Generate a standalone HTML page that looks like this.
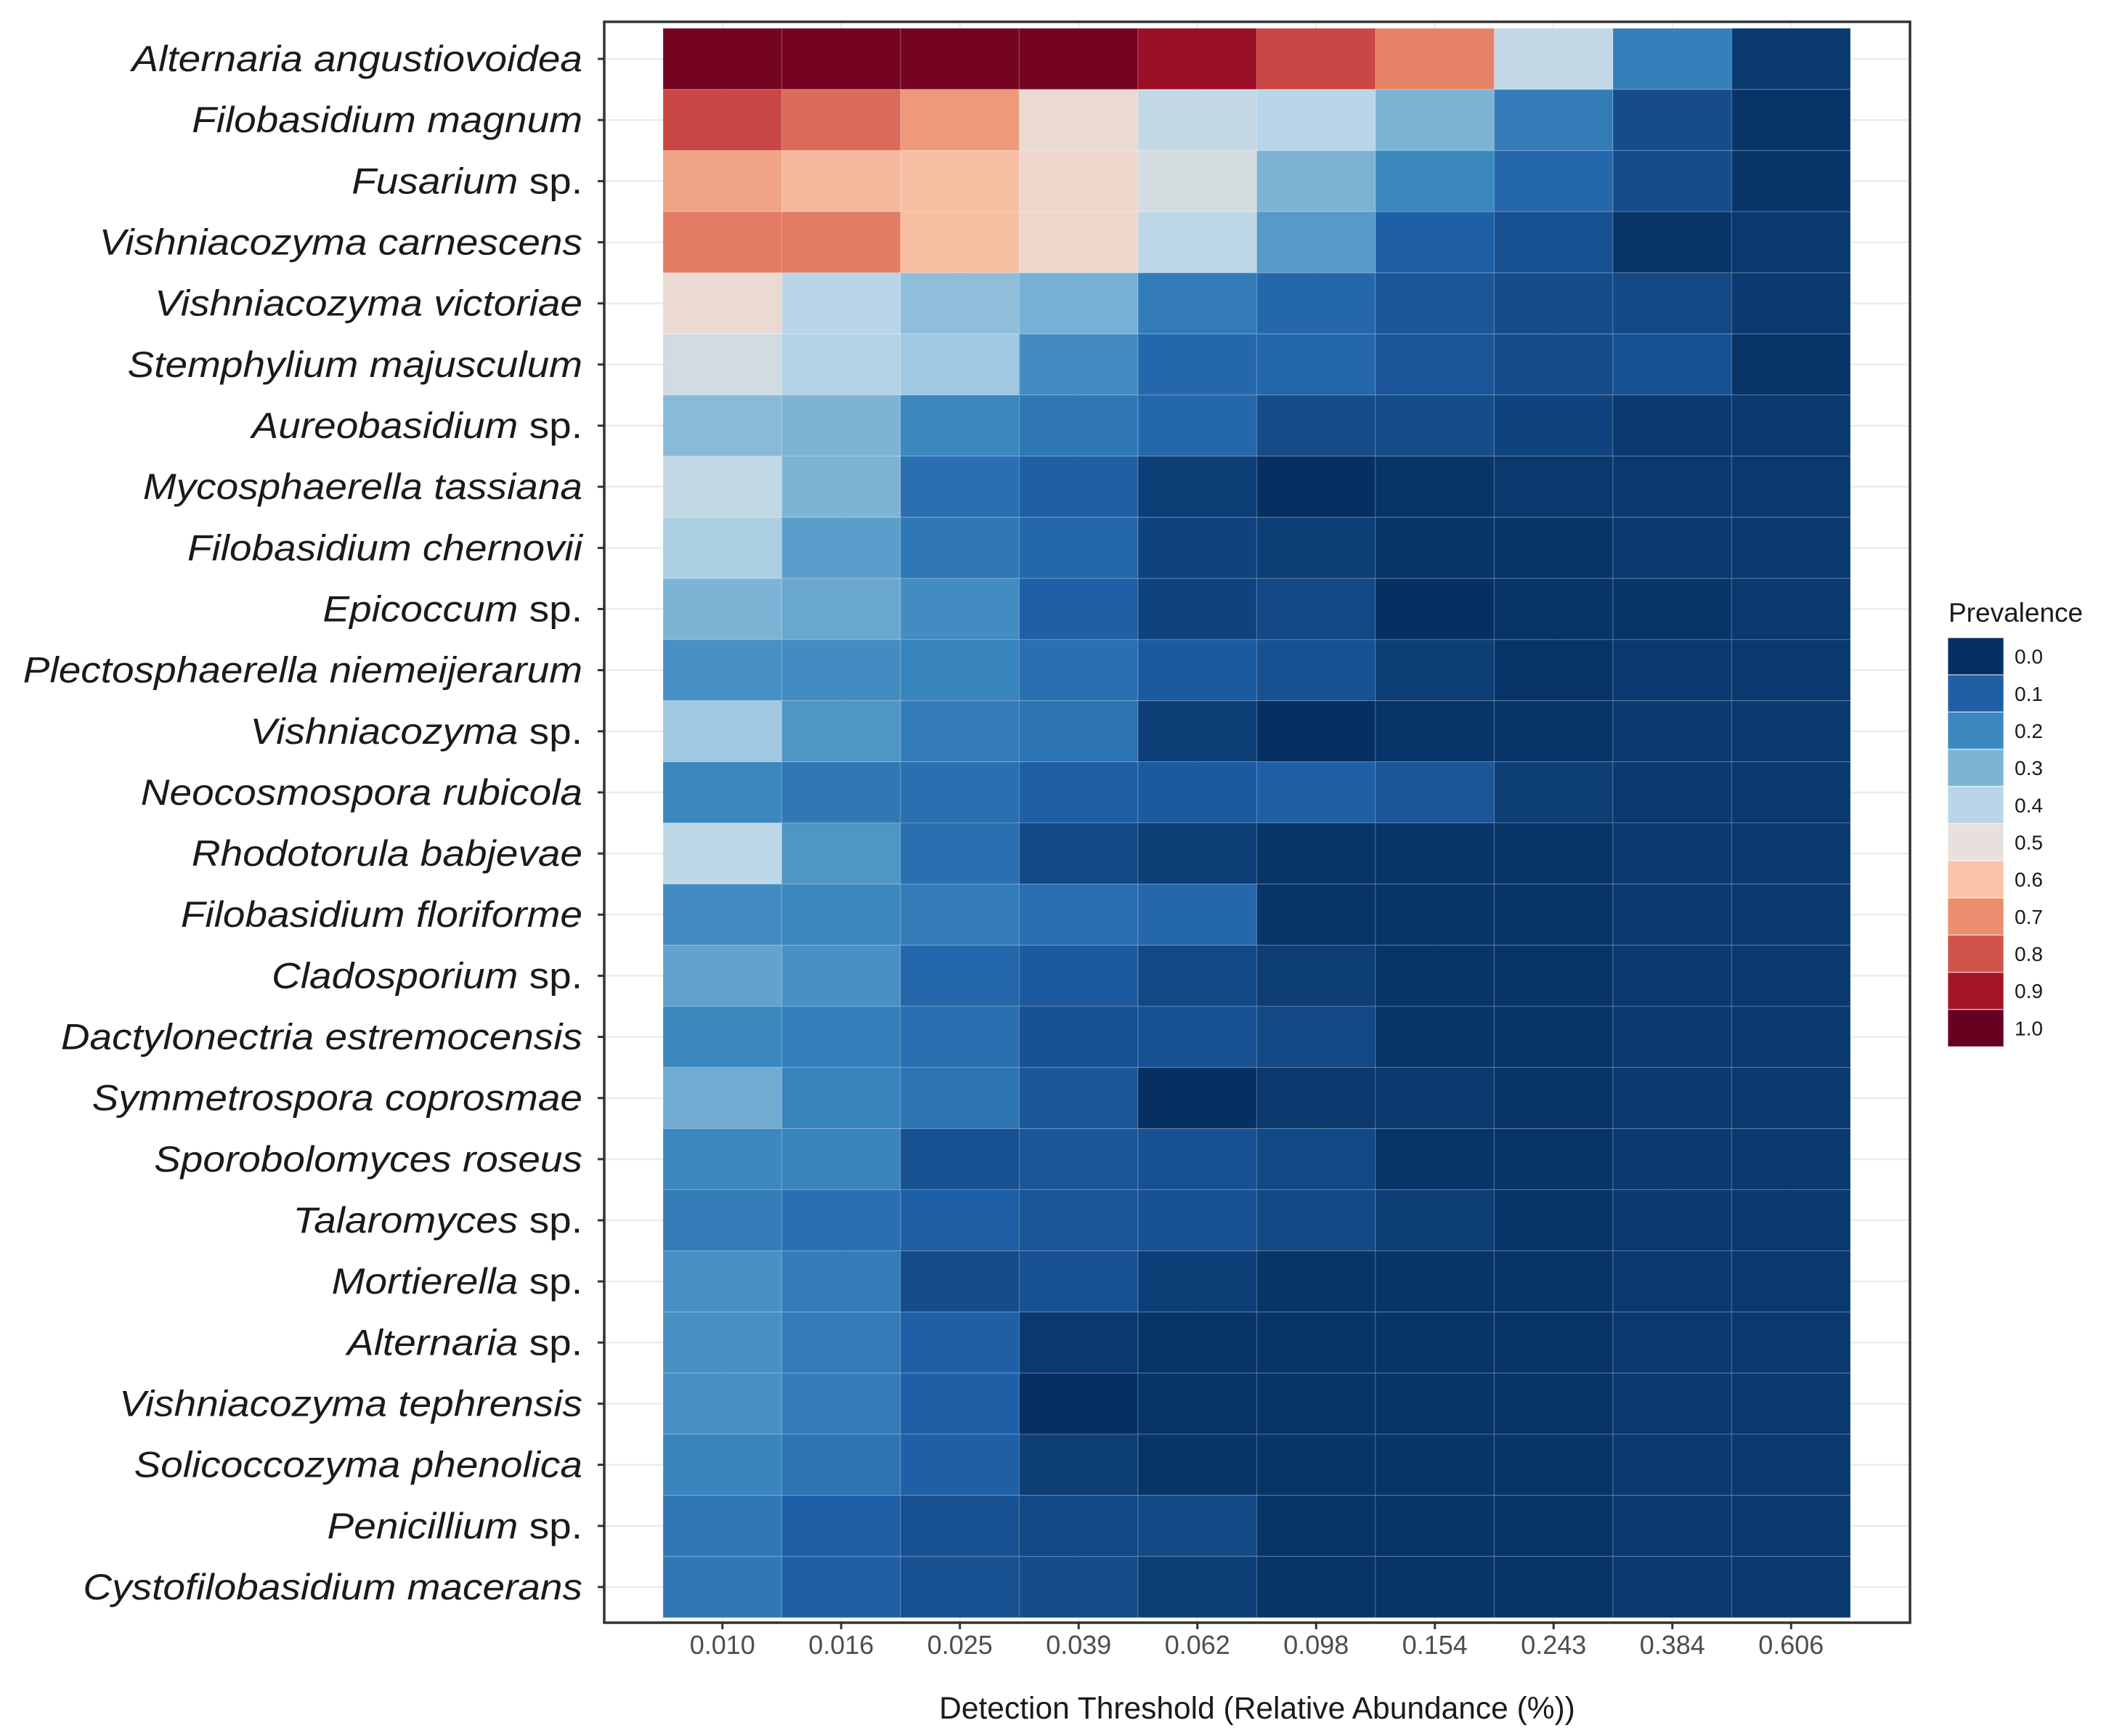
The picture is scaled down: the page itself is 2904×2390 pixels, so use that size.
<!DOCTYPE html>
<html><head><meta charset="utf-8"><style>
html,body{margin:0;padding:0;background:#fff;}
svg{display:block;font-family:"Liberation Sans",sans-serif;}
</style></head><body>
<svg id="chart" width="2904" height="2390" viewBox="0 0 2904 2390" xmlns="http://www.w3.org/2000/svg"></svg>
<script>
const taxa=[["Alternaria angustiovoidea",""],["Filobasidium magnum",""],["Fusarium"," sp."],["Vishniacozyma carnescens",""],["Vishniacozyma victoriae",""],["Stemphylium majusculum",""],["Aureobasidium"," sp."],["Mycosphaerella tassiana",""],["Filobasidium chernovii",""],["Epicoccum"," sp."],["Plectosphaerella niemeijerarum",""],["Vishniacozyma"," sp."],["Neocosmospora rubicola",""],["Rhodotorula babjevae",""],["Filobasidium floriforme",""],["Cladosporium"," sp."],["Dactylonectria estremocensis",""],["Symmetrospora coprosmae",""],["Sporobolomyces roseus",""],["Talaromyces"," sp."],["Mortierella"," sp."],["Alternaria"," sp."],["Vishniacozyma tephrensis",""],["Solicoccozyma phenolica",""],["Penicillium"," sp."],["Cystofilobasidium macerans",""]];
const thresholds=["0.010","0.016","0.025","0.039","0.062","0.098","0.154","0.243","0.384","0.606"];
const prevalence=[
[0.98,0.98,0.98,0.98,0.92,0.82,0.72,0.42,0.18,0.02],
[0.82,0.76,0.68,0.52,0.42,0.40,0.30,0.17,0.06,0.01],
[0.66,0.62,0.61,0.53,0.46,0.30,0.20,0.12,0.06,0.01],
[0.73,0.73,0.61,0.53,0.41,0.24,0.10,0.07,0.01,0.02],
[0.52,0.40,0.33,0.29,0.17,0.12,0.08,0.06,0.05,0.02],
[0.45,0.39,0.36,0.21,0.12,0.12,0.08,0.06,0.07,0.01],
[0.32,0.30,0.20,0.16,0.12,0.06,0.06,0.04,0.02,0.02],
[0.42,0.30,0.14,0.10,0.03,0.00,0.01,0.02,0.02,0.02],
[0.38,0.25,0.16,0.12,0.04,0.03,0.01,0.01,0.02,0.02],
[0.30,0.27,0.21,0.10,0.04,0.05,0.00,0.01,0.01,0.02],
[0.22,0.21,0.19,0.14,0.09,0.07,0.03,0.01,0.02,0.02],
[0.36,0.23,0.17,0.15,0.03,0.00,0.01,0.01,0.02,0.02],
[0.20,0.16,0.14,0.10,0.09,0.10,0.08,0.03,0.02,0.02],
[0.41,0.23,0.14,0.05,0.03,0.01,0.01,0.01,0.02,0.02],
[0.21,0.20,0.17,0.14,0.12,0.01,0.01,0.01,0.02,0.02],
[0.26,0.22,0.12,0.09,0.05,0.03,0.01,0.01,0.02,0.02],
[0.20,0.18,0.14,0.07,0.07,0.05,0.01,0.01,0.02,0.02],
[0.28,0.19,0.15,0.08,0.00,0.02,0.02,0.01,0.02,0.02],
[0.20,0.19,0.07,0.08,0.07,0.05,0.01,0.01,0.02,0.02],
[0.17,0.14,0.10,0.08,0.07,0.05,0.03,0.01,0.02,0.02],
[0.22,0.17,0.06,0.07,0.03,0.01,0.01,0.01,0.02,0.02],
[0.22,0.17,0.10,0.02,0.01,0.01,0.01,0.01,0.02,0.02],
[0.22,0.17,0.10,0.00,0.01,0.01,0.01,0.01,0.02,0.02],
[0.19,0.15,0.10,0.03,0.01,0.01,0.01,0.01,0.02,0.02],
[0.16,0.10,0.07,0.05,0.05,0.01,0.01,0.01,0.02,0.02],
[0.16,0.10,0.07,0.06,0.03,0.01,0.01,0.01,0.02,0.02]];
const legendTicks=["0.0","0.1","0.2","0.3","0.4","0.5","0.6","0.7","0.8","0.9","1.0"];
const palette=["#053061","#1f5fa6","#3b88bf","#7db4d6","#b8d6e7","#e8e0dc","#f9c3a8","#ea8e6f","#d0534a","#a61428","#67001f"];

const NS="http://www.w3.org/2000/svg";
const svg=document.getElementById("chart");
function mk(tag,attrs,parent){const e=document.createElementNS(NS,tag);for(const k in attrs)e.setAttribute(k,attrs[k]);(parent||svg).appendChild(e);return e;}
function hex(h){return [1,3,5].map(i=>parseInt(h.substr(i,2),16));}
function color(v){v=Math.max(0,Math.min(1,v))*10;const i=Math.min(9,Math.floor(v)),t=v-i;const a=hex(palette[i]),b=hex(palette[i+1]);return "rgb("+a.map((c,k)=>Math.round(c+(b[k]-c)*t)).join(",")+")";}
const PX0=832,PX1=2630,PY0=30,PY1=2234;
const CX0=913,CX1=2548,CY0=39,CY1=2227;
const cw=(CX1-CX0)/thresholds.length,ch=(CY1-CY0)/taxa.length;
const xPos=j=>CX0+j*cw, yPos=i=>CY0+i*ch;

for(let i=0;i<taxa.length;i++){const g=mk("line",{x1:PX0,x2:PX1,y1:yPos(i)+ch/2,y2:yPos(i)+ch/2,stroke:"#ebebeb","stroke-width":2.5});

}
for(let j=0;j<thresholds.length;j++){const g=mk("line",{y1:PY0,y2:PY1,x1:xPos(j)+cw/2,x2:xPos(j)+cw/2,stroke:"#ebebeb","stroke-width":2.5});

}
for(let i=0;i<taxa.length;i++)for(let j=0;j<thresholds.length;j++){
const r=mk("rect",{x:xPos(j),y:yPos(i),width:cw,height:ch,fill:color(prevalence[i][j]),stroke:"rgba(255,255,255,0.15)","stroke-width":1.5});

}
const pb=mk("rect",{x:PX0,y:PY0,width:PX1-PX0,height:PY1-PY0,fill:"none",stroke:"#333","stroke-width":3.5});


for(let i=0;i<taxa.length;i++){const y=yPos(i)+ch/2;
const tk=mk("line",{x1:PX0-9,x2:PX0,y1:y,y2:y,stroke:"#333","stroke-width":3});


const t=mk("text",{x:0,y:0,"text-anchor":"end","font-size":50,fill:"#1a1a1a",transform:"translate(802,"+(y+17)+") scale(1.1,1)"});


const a=mk("tspan",{"font-style":"italic"},t);a.textContent=taxa[i][0];
if(taxa[i][1]){const b=mk("tspan",{},t);b.textContent=taxa[i][1];}}
for(let j=0;j<thresholds.length;j++){const x=xPos(j)+cw/2;
const tk=mk("line",{x1:x,x2:x,y1:PY1,y2:PY1+9,stroke:"#333","stroke-width":3});


const t=mk("text",{x:x,y:2277,"text-anchor":"middle","font-size":36,fill:"#4d4d4d"});


t.textContent=thresholds[j];}
const xt=mk("text",{x:1731,y:2366,"text-anchor":"middle","font-size":42.5,fill:"#1a1a1a"});


xt.textContent="Detection Threshold (Relative Abundance (%))";
const lt=mk("text",{x:2683,y:856,"font-size":37,fill:"#1a1a1a"});


lt.textContent="Prevalence";
const LY0=878,lh=(1441-878)/legendTicks.length;
for(let k=0;k<legendTicks.length;k++){
const r=mk("rect",{x:2682,y:LY0+k*lh,width:77,height:lh,fill:color(parseFloat(legendTicks[k])),stroke:"rgba(255,255,255,0.5)","stroke-width":1.5});


const t=mk("text",{x:2774,y:LY0+k*lh+lh/2+10,"font-size":28,fill:"#1a1a1a"});


t.textContent=legendTicks[k];}
</script>
</body></html>
